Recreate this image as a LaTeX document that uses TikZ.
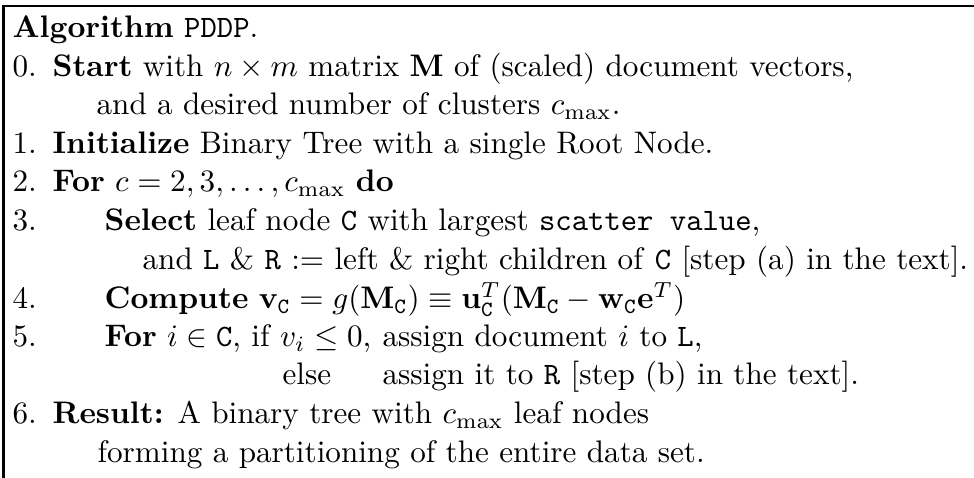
\documentclass[tikz,border=0pt]{standalone}
\usepackage{amsmath}
\newcommand{\tC}{\mathtt{C}}
\begin{document}
\begin{tikzpicture}[
            x=0.321pt, y=-0.321pt,
            line/.style={anchor=base west, inner sep=0pt},
        ]
            \useasboundingbox (0, 0) rectangle (974, 478);
            \draw[line width=0.7pt] (3.5, 478) -- (3.5, 6) -- (974, 6);
            \node[line] (head) at (12, 38) {\textbf{Algorithm} \texttt{PDDP}.};
            \node[line] (n0) at (12, 77) {0.};
            \node[line] (s0) at (52, 77) {\textbf{Start} with $n \times m$ matrix $\mathbf{M}$ of (scaled) document vectors,};
            \node[line] (s0b) at (96, 115) {and a desired number of clusters $c_{\max}$.};
            \node[line] (n1) at (12, 154) {1.};
            \node[line] (s1) at (52, 154) {\textbf{Initialize} Binary Tree with a single Root Node.};
            \node[line] (n2) at (12, 192) {2.};
            \node[line] (s2) at (52, 192) {\textbf{For} $c = 2, 3, \ldots, c_{\max}$ \textbf{do}};
            \node[line] (n3) at (12, 231) {3.};
            \node[line] (s3) at (104, 231) {\textbf{Select} leaf node \texttt{C} with largest \texttt{scatter value},};
            \node[line] (s3b) at (142, 270) {and \texttt{L} \& \texttt{R} := left \& right children of \texttt{C} [step (a) in the text].};
            \node[line] (n4) at (12, 309) {4.};
            \node[line] (s4) at (104, 309) {\textbf{Compute} $\mathbf{v}_{\tC} = g(\mathbf{M}_{\tC}) \equiv \mathbf{u}_{\tC}^T(\mathbf{M}_{\tC} - \mathbf{w}_{\tC}\mathbf{e}^T)$};
            \node[line] (n5) at (12, 347) {5.};
            \node[line] (s5) at (104, 347) {\textbf{For} $i \in \tC$, if $v_i \le 0$,};
            \node[line] (s5a) at (382, 347) {assign document $i$ to \texttt{L},};
            \node[line] (s5e) at (282, 385) {else};
            \node[line] (s5b) at (382, 385) {assign it to \texttt{R} [step (b) in the text].};
            \node[line] (n6) at (12, 424) {6.};
            \node[line] (s6) at (52, 424) {\textbf{Result:} A binary tree with $c_{\max}$ leaf nodes};
            \node[line] (s6b) at (97, 463) {forming a partitioning of the entire data set.};
        \end{tikzpicture}
\end{document}
